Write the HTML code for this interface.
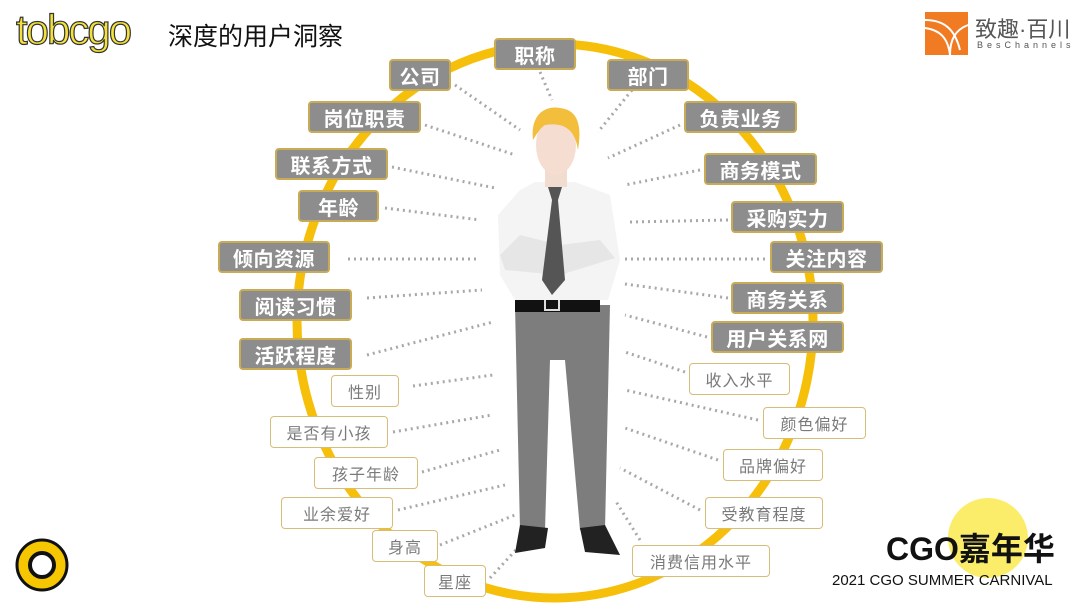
<!DOCTYPE html>
<html><head><meta charset="utf-8"><style>
body{margin:0;width:1080px;height:608px;overflow:hidden;background:#fff;font-family:"Liberation Sans","Noto Sans CJK SC",sans-serif;position:relative}
.b{position:absolute;box-sizing:border-box;display:flex;align-items:center;justify-content:center;border-radius:4px}
.d{background:#8d8d8d;border:2px solid #c9ab55;color:#fff;font-size:20px;font-weight:bold;letter-spacing:0.5px}
.l{background:#fff;border:1.5px solid #d8bd78;color:#7a7a7a;font-size:16px;letter-spacing:1px}
</style></head><body>
<svg width="1080" height="608" style="position:absolute;left:0;top:0">
<ellipse cx="555" cy="321" rx="258" ry="277" fill="none" stroke="#f6bf0a" stroke-width="9"/>
<g stroke="#a8a8a8" stroke-width="3" stroke-dasharray="2 4" fill="none">
<line x1="540" y1="72" x2="552" y2="100"/>
<line x1="455" y1="85" x2="520" y2="130"/>
<line x1="632" y1="90" x2="598" y2="132"/>
<line x1="425" y1="125" x2="515" y2="155"/>
<line x1="680" y1="125" x2="608" y2="158"/>
<line x1="392" y1="167" x2="495" y2="188"/>
<line x1="700" y1="170" x2="625" y2="185"/>
<line x1="385" y1="208" x2="480" y2="220"/>
<line x1="728" y1="220" x2="630" y2="222"/>
<line x1="348" y1="259" x2="480" y2="259"/>
<line x1="765" y1="259" x2="625" y2="259"/>
<line x1="367" y1="298" x2="482" y2="290"/>
<line x1="728" y1="298" x2="625" y2="284"/>
<line x1="367" y1="355" x2="493" y2="322"/>
<line x1="707" y1="337" x2="625" y2="315"/>
<line x1="413" y1="386" x2="493" y2="375"/>
<line x1="685" y1="372" x2="625" y2="352"/>
<line x1="393" y1="432" x2="492" y2="415"/>
<line x1="758" y1="420" x2="625" y2="390"/>
<line x1="422" y1="472" x2="500" y2="450"/>
<line x1="718" y1="460" x2="625" y2="428"/>
<line x1="398" y1="510" x2="505" y2="485"/>
<line x1="700" y1="510" x2="620" y2="468"/>
<line x1="440" y1="545" x2="515" y2="515"/>
<line x1="640" y1="540" x2="615" y2="500"/>
<line x1="490" y1="578" x2="525" y2="540"/>
</g>
<path d="M515 305 L610 305 L605 530 L580 530 L565 360 L550 360 L545 530 L520 530 Z" fill="#7d7d7d"/>
<path d="M520 525 L548 528 L545 548 L515 553 Z" fill="#222"/><path d="M580 528 L605 525 L620 555 L585 552 Z" fill="#222"/>
<path d="M515 296 L600 296 L600 312 L515 312 Z" fill="#111"/>
<rect x="545" y="297" width="14" height="13" fill="none" stroke="#ddd" stroke-width="2"/>
<path d="M520 190 L535 182 L575 182 L610 195 L620 260 L608 300 L515 300 L500 275 L498 215 Z" fill="#f4f4f4"/>
<path d="M500 255 L520 235 L560 245 L600 240 L615 258 L560 275 L505 270 Z" fill="#e6e6e6"/>
<path d="M548 187 L562 187 L558 200 L565 280 L552 295 L542 280 L552 200 Z" fill="#555"/>
<rect x="545" y="155" width="22" height="32" fill="#f2dcd0"/>
<ellipse cx="556" cy="145" rx="20" ry="30" fill="#f5ddd2"/>
<path d="M533 140 C530 115 545 105 560 108 C578 110 582 125 578 150 C575 130 565 122 545 125 C540 128 536 135 533 140 Z" fill="#f2be3c"/>
<circle cx="42" cy="565" r="25" fill="#f6c600" stroke="#111" stroke-width="3"/>
<circle cx="42" cy="565" r="12" fill="#fff" stroke="#111" stroke-width="4"/>
<rect x="925" y="12" width="43" height="43" fill="#f07b22"/>
<path d="M925 20 C945 20 955 30 960 50 M925 28 C940 30 948 38 950 55 M968 25 C955 30 950 40 950 55" stroke="#fff" stroke-width="2" fill="none"/>
<circle cx="988" cy="538" r="40" fill="#fbec6a"/>
</svg>
<div style="position:absolute;left:16px;top:6px;font-size:42px;color:#f4e23a;-webkit-text-stroke:1.2px #333;letter-spacing:-2px">tobcgo</div>
<div style="position:absolute;left:168px;top:17px;font-size:25px;color:#111">深度的用户洞察</div>
<div style="position:absolute;left:975px;top:12px;font-size:22px;color:#555">致趣·百川</div>
<div style="position:absolute;left:977px;top:40px;font-size:9px;color:#555;letter-spacing:4px">BesChannels</div>
<div style="position:absolute;left:886px;top:524px;font-size:32px;font-weight:bold;color:#111">CGO嘉年华</div>
<div style="position:absolute;left:832px;top:572px;font-size:15px;color:#111">2021 CGO SUMMER CARNIVAL</div>

<div class="b d" style="left:494px;top:38px;width:82px;height:32px">职称</div>
<div class="b d" style="left:389px;top:59px;width:62px;height:32px">公司</div>
<div class="b d" style="left:607px;top:59px;width:82px;height:32px">部门</div>
<div class="b d" style="left:308px;top:101px;width:113px;height:32px">岗位职责</div>
<div class="b d" style="left:684px;top:101px;width:113px;height:32px">负责业务</div>
<div class="b d" style="left:275px;top:148px;width:113px;height:32px">联系方式</div>
<div class="b d" style="left:704px;top:153px;width:113px;height:32px">商务模式</div>
<div class="b d" style="left:298px;top:190px;width:81px;height:32px">年龄</div>
<div class="b d" style="left:731px;top:201px;width:113px;height:32px">采购实力</div>
<div class="b d" style="left:218px;top:241px;width:112px;height:32px">倾向资源</div>
<div class="b d" style="left:770px;top:241px;width:113px;height:32px">关注内容</div>
<div class="b d" style="left:239px;top:289px;width:113px;height:32px">阅读习惯</div>
<div class="b d" style="left:731px;top:282px;width:113px;height:32px">商务关系</div>
<div class="b d" style="left:239px;top:338px;width:113px;height:32px">活跃程度</div>
<div class="b d" style="left:711px;top:321px;width:133px;height:32px">用户关系网</div>

<div class="b l" style="left:331px;top:375px;width:68px;height:32px">性别</div>
<div class="b l" style="left:689px;top:363px;width:101px;height:32px">收入水平</div>
<div class="b l" style="left:270px;top:416px;width:118px;height:32px">是否有小孩</div>
<div class="b l" style="left:763px;top:407px;width:103px;height:32px">颜色偏好</div>
<div class="b l" style="left:314px;top:457px;width:104px;height:32px">孩子年龄</div>
<div class="b l" style="left:723px;top:449px;width:100px;height:32px">品牌偏好</div>
<div class="b l" style="left:281px;top:497px;width:112px;height:32px">业余爱好</div>
<div class="b l" style="left:705px;top:497px;width:118px;height:32px">受教育程度</div>
<div class="b l" style="left:372px;top:530px;width:66px;height:32px">身高</div>
<div class="b l" style="left:632px;top:545px;width:138px;height:32px">消费信用水平</div>
<div class="b l" style="left:424px;top:565px;width:62px;height:32px">星座</div>
</body></html>
